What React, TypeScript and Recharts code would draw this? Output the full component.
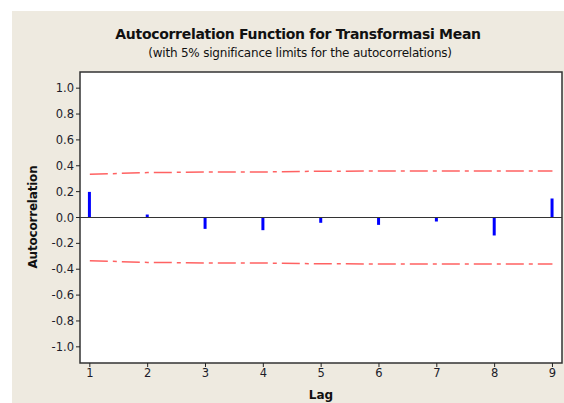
import React from 'react';
import {
    ComposedChart, Bar, Line, XAxis, YAxis, ReferenceLine, ReferenceArea, CartesianGrid,
} from 'recharts';

// ACF values
const lags = [1, 2, 3, 4, 5, 6, 7, 8, 9];
const acf = [0.198, 0.023, -0.088, -0.098, -0.041, -0.057, -0.031, -0.139, 0.147];
const upperLimit = [0.334, 0.347, 0.351, 0.352, 0.358, 0.359, 0.359, 0.359, 0.36];
const lowerLimit = [-0.334, -0.347, -0.351, -0.352, -0.358, -0.359, -0.359, -0.359, -0.36];
const yTicks = [-1.0, -0.8, -0.6, -0.4, -0.2, 0.0, 0.2, 0.4, 0.6, 0.8, 1.0];

const data = lags.map((lag, i) => ({
    lag,
    acf: acf[i],
    upper: upperLimit[i],
    lower: lowerLimit[i],
}));

const FONT = '"DejaVu Sans", Verdana, sans-serif';
const X_DOMAIN: [number, number] = [0.83, 9.165];
const Y_DOMAIN: [number, number] = [-1.125, 1.125];
const LIMIT_COLOR = '#ff6262';

export default function App() {
    return (
        <div style={{ position: 'absolute', left: 0, top: 0, width: 564, height: 403, background: '#fff', overflow: 'hidden' }}>
            <div style={{ position: 'absolute', left: 12, top: 11, width: 552, height: 392, background: '#eeeae0' }} />
            <div
                style={{
                    position: 'absolute', left: 0, top: 26, width: 596, textAlign: 'center',
                    fontFamily: FONT, fontWeight: 'bold', fontSize: 14, color: '#111', letterSpacing: -0.3,
                }}
            >
                Autocorrelation Function for Transformasi Mean
            </div>
            <div
                style={{
                    position: 'absolute', left: 0, top: 46, width: 600, textAlign: 'center',
                    fontFamily: FONT, fontSize: 12, color: '#111', letterSpacing: -0.2,
                }}
            >
                (with 5% significance limits for the autocorrelations)
            </div>
            <div
                style={{
                    position: 'absolute', left: 33, top: 217, transform: 'translate(-50%, -50%) rotate(-90deg)',
                    fontFamily: FONT, fontWeight: 'bold', fontSize: 12, color: '#111', whiteSpace: 'nowrap',
                    letterSpacing: -0.2,
                }}
            >
                Autocorrelation
            </div>
            <div
                style={{
                    position: 'absolute', left: 321, top: 395, transform: 'translate(-50%, -50%)',
                    fontFamily: FONT, fontWeight: 'bold', fontSize: 12, color: '#111',
                }}
            >
                Lag
            </div>
            <div style={{ position: 'absolute', left: 0, top: 0 }}>
                <ComposedChart
                    width={564}
                    height={403}
                    data={data}
                    margin={{ top: 72, right: 2, bottom: 0, left: 0 }}
                >
                    <CartesianGrid fill="#ffffff" horizontal={false} vertical={false} />
                    <XAxis
                        dataKey="lag"
                        type="number"
                        domain={X_DOMAIN}
                        ticks={lags}
                        height={40}
                        allowDataOverflow
                        axisLine={false}
                        tickLine={{ stroke: '#222' }}
                        tickSize={4}
                        tick={{ fill: '#1c1c2a', fontSize: 11.5, fontFamily: FONT }}
                    />
                    <YAxis
                        type="number"
                        domain={Y_DOMAIN}
                        ticks={yTicks}
                        width={80}
                        allowDataOverflow
                        axisLine={false}
                        tickLine={{ stroke: '#222' }}
                        tickSize={4}
                        tickFormatter={(v: number) => v.toFixed(1)}
                        tick={{ fill: '#1c1c2a', fontSize: 11.5, fontFamily: FONT }}
                    />
                    <ReferenceLine y={0} stroke="#333" strokeWidth={1.2} />
                    <Bar dataKey="acf" fill="#0000ff" barSize={3} isAnimationActive={false} />
                    <Line
                        dataKey="upper"
                        type="linear"
                        stroke={LIMIT_COLOR}
                        strokeWidth={1.5}
                        strokeDasharray="18 5 4 5"
                        dot={false}
                        isAnimationActive={false}
                    />
                    <Line
                        dataKey="lower"
                        type="linear"
                        stroke={LIMIT_COLOR}
                        strokeWidth={1.5}
                        strokeDasharray="18 5 4 5"
                        dot={false}
                        isAnimationActive={false}
                    />
                    <ReferenceArea
                        x1={X_DOMAIN[0]}
                        x2={X_DOMAIN[1]}
                        y1={Y_DOMAIN[0]}
                        y2={Y_DOMAIN[1]}
                        fill="none"
                        stroke="#333"
                        strokeWidth={1.5}
                        ifOverflow="extendDomain"
                    />
                </ComposedChart>
            </div>
        </div>
    );
}
